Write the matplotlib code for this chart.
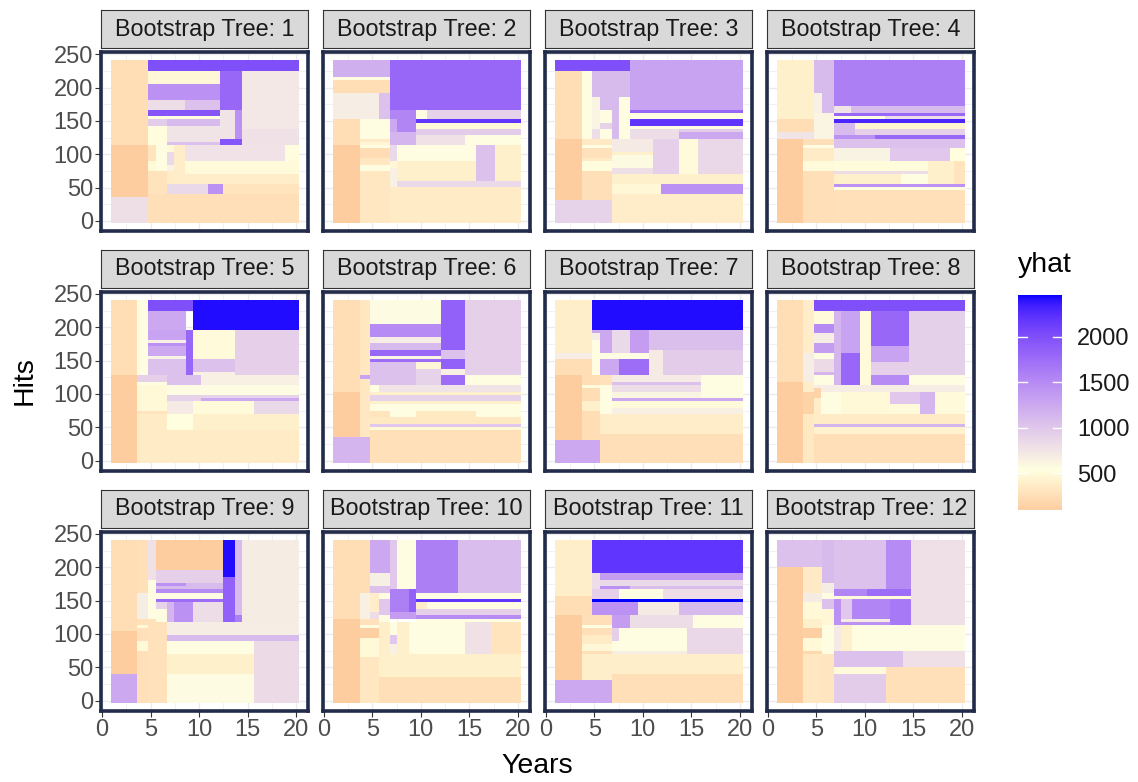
import matplotlib
matplotlib.use("Agg")
import matplotlib.pyplot as plt
import matplotlib.colors as mcolors
import numpy as np
from matplotlib.cm import ScalarMappable

plt.rcParams["font.family"] = ["Liberation Sans", "DejaVu Sans"]

# Each tree: (years_lo, years_hi, hits_lo, hits_hi, yhat); later boxes paint over earlier ones
tree_1 = [
    (0.9, 4.7, 113.5, 241, 250), (0.9, 4.7, 35.5, 113.5, 95), (0.9, 4.7, -3, 35.5, 800),
    (4.7, 20.3, -3, 40, 260), (4.7, 6.7, 40, 74.5, 290),
    (6.7, 10.9, 40, 55, 850), (10.9, 12.5, 40, 55, 1450), (12.5, 20.3, 40, 55, 300),
    (6.7, 20.3, 55, 74.5, 380), (8.6, 20.3, 70, 89.5, 500),
    (4.7, 5.55, 89.5, 113.5, 300), (4.7, 5.55, 74.5, 89.5, 480), (5.55, 6.7, 74.5, 113.5, 560),
    (6.7, 7.4, 103, 113.5, 480), (6.7, 7.4, 83.5, 103, 850), (6.7, 7.4, 74.5, 83.5, 640),
    (7.4, 8.6, 74.5, 113.5, 380), (8.6, 18.8, 89.5, 113.5, 770), (18.8, 20.3, 89.5, 113.5, 520),
    (4.7, 20.3, 224.5, 241, 2000), (4.7, 12.15, 205, 224.5, 470), (12.15, 14.4, 166, 224.5, 1800),
    (14.4, 20.3, 137.5, 224.5, 720), (14.4, 20.3, 113.5, 137.5, 780),
    (4.7, 12.15, 181, 205, 1450), (4.7, 8.6, 166, 181, 820), (8.6, 12.15, 166, 181, 1050),
    (4.7, 12.15, 157, 166, 1950), (4.7, 12.15, 152.5, 157, 560),
    (4.7, 6.7, 142, 152.5, 950), (6.7, 12.15, 142, 152.5, 1100),
    (12.15, 13.7, 122.5, 166, 760), (13.7, 14.4, 122.5, 166, 1450), (12.15, 14.4, 113.5, 122.5, 1950),
    (4.7, 6.7, 113.5, 142, 520), (6.7, 12.15, 118, 142, 760), (6.7, 12.15, 113.5, 118, 1050),
]
tree_2 = [
    (0.9, 6.8, 215.5, 241, 1200), (0.9, 6.8, 211, 215.5, 560), (0.9, 6.8, 191.5, 211, 250),
    (0.9, 5.65, 152.5, 191.5, 680), (5.65, 6.8, 152.5, 191.5, 1050),
    (0.9, 3.7, 113.5, 152.5, 250), (0.9, 3.7, -3, 113.5, 95),
    (3.7, 6.8, 122.5, 152.5, 560), (3.7, 6.8, 118, 122.5, 350), (3.7, 6.8, 113.5, 118, 450),
    (3.7, 6.8, 109, 113.5, 560), (3.7, 6.8, 94, 109, 230), (3.7, 6.8, 83.5, 94, 330),
    (3.7, 6.8, 74.5, 83.5, 560), (3.7, 6.8, -3, 74.5, 330),
    (6.8, 20.3, 166, 241, 1800), (6.8, 9.45, 152.5, 166, 1550), (9.45, 10.6, 152.5, 166, 560),
    (10.6, 20.3, 152.5, 166, 900), (6.8, 7.5, 133, 152.5, 1250), (7.5, 9.45, 133, 152.5, 1550),
    (9.45, 20.3, 146.5, 152.5, 2200), (9.45, 20.3, 137.5, 146.5, 480), (9.45, 20.3, 128.5, 137.5, 950),
    (6.8, 9.45, 113.5, 133, 1150), (9.45, 14.5, 113.5, 128.5, 780), (14.5, 20.3, 113.5, 128.5, 560),
    (6.8, 7.5, 89.5, 113.5, 850), (6.8, 7.5, 79, 89.5, 470), (6.8, 7.5, 50.5, 79, 660),
    (7.5, 15.65, 89.5, 113.5, 560), (15.65, 17.6, 59.5, 113.5, 1050), (17.6, 20.3, 59.5, 113.5, 400),
    (7.5, 15.65, 59.5, 89.5, 400), (7.5, 20.3, 50.5, 59.5, 850), (6.8, 20.3, -3, 50.5, 360),
]
tree_3 = [
    (0.9, 8.65, 224.5, 241, 2000), (0.9, 3.7, 122.5, 224.5, 250), (0.9, 3.7, 31, 122.5, 95),
    (0.9, 6.8, -3, 31, 900), (3.7, 4.8, 122.5, 224.5, 560), (4.8, 8.65, 185.5, 224.5, 1100),
    (4.8, 5.55, 137.5, 185.5, 620), (4.8, 5.55, 122.5, 137.5, 820),
    (5.55, 6.8, 166, 185.5, 1100), (5.55, 6.8, 146.5, 166, 560), (5.55, 6.8, 137.5, 146.5, 900),
    (5.55, 6.8, 122.5, 137.5, 560), (6.8, 7.5, 122.5, 185.5, 1100), (7.5, 8.65, 122.5, 185.5, 560),
    (8.65, 20.3, 166, 241, 1300), (8.65, 20.3, 161.5, 166, 1800), (8.65, 20.3, 152.5, 161.5, 560),
    (8.65, 20.3, 142, 152.5, 2200), (8.65, 20.3, 137.5, 142, 560), (8.65, 13.7, 122.5, 137.5, 820),
    (13.7, 20.3, 133, 137.5, 950), (13.7, 20.3, 122.5, 133, 1250),
    (3.7, 6.8, 113.5, 122.5, 350), (3.7, 6.8, 109, 113.5, 560), (3.7, 6.8, 94, 109, 280),
    (3.7, 6.8, 89.5, 94, 350), (3.7, 6.8, 74.5, 89.5, 520), (3.7, 6.8, 31, 74.5, 260),
    (6.8, 11.0, 103, 122.5, 700), (6.8, 11.0, 98.5, 103, 400), (6.8, 11.0, 79, 98.5, 580),
    (6.8, 11.0, 70, 79, 800), (11.0, 13.7, 70, 122.5, 930), (13.7, 15.65, 70, 122.5, 500),
    (15.65, 20.3, 70, 122.5, 860), (6.8, 20.3, 55, 70, 400), (6.8, 11.85, 40, 55, 470),
    (11.85, 20.3, 40, 55, 1450), (6.8, 20.3, -3, 40, 380),
]
tree_4 = [
    (0.9, 4.8, 152.5, 241, 400), (0.9, 4.8, 133, 152.5, 250), (0.9, 4.8, 122.5, 133, 760),
    (0.9, 3.6, -3, 122.5, 95), (3.6, 6.8, -3, 122.5, 260), (3.6, 6.8, 109, 113.5, 560),
    (3.6, 6.8, 89.5, 109, 370), (3.6, 6.8, 74.5, 89.5, 500),
    (4.8, 6.8, 191.5, 241, 1100), (4.8, 5.55, 161.5, 191.5, 650), (5.55, 6.8, 161.5, 191.5, 1100),
    (4.8, 6.8, 122.5, 161.5, 620), (6.8, 20.3, 172, 241, 1600), (6.8, 8.6, 161.5, 172, 760),
    (8.6, 20.3, 161.5, 172, 1100), (6.8, 20.3, 157, 161.5, 1800), (6.8, 12.1, 152.5, 157, 560),
    (12.1, 20.3, 152.5, 157, 820), (6.8, 20.3, 146.5, 152.5, 2300), (6.8, 9.0, 128.5, 146.5, 1100),
    (9.0, 20.3, 137.5, 146.5, 440), (9.0, 20.3, 128.5, 137.5, 930), (6.8, 11.0, 122.5, 128.5, 1450),
    (11.0, 20.3, 122.5, 128.5, 1800), (6.8, 20.3, 109, 122.5, 1050), (6.8, 12.6, 89.5, 109, 640),
    (12.6, 18.8, 89.5, 109, 1000), (18.8, 20.3, 89.5, 109, 530), (6.8, 16.5, 74.5, 89.5, 510),
    (16.5, 19.2, 55, 89.5, 400), (19.2, 20.3, 55, 89.5, 300), (6.8, 16.5, 70, 74.5, 820),
    (6.8, 13.7, 55, 70, 400), (13.7, 16.5, 55, 70, 560), (6.8, 20.3, 50.5, 55, 1450),
    (6.8, 20.3, 46, 50.5, 560), (6.8, 20.3, -3, 46, 270),
]
tree_5 = [
    (0.9, 3.6, 128.5, 241, 250), (0.9, 3.6, -3, 128.5, 95), (3.6, 4.7, 128.5, 241, 560),
    (4.7, 9.4, 224.5, 241, 2000), (9.4, 20.3, 196, 241, 2420), (4.7, 8.65, 196, 224.5, 1250),
    (4.7, 8.65, 181, 196, 1300), (4.7, 8.65, 176.5, 181, 650), (4.7, 8.65, 172, 176.5, 1450),
    (4.7, 8.65, 157, 172, 1250), (4.7, 8.65, 152.5, 157, 640), (4.7, 8.65, 128.5, 152.5, 1050),
    (8.65, 9.4, 128.5, 196, 1800), (9.4, 13.7, 152.5, 196, 500), (9.4, 13.7, 133, 152.5, 1050),
    (9.4, 13.7, 128.5, 133, 650), (13.7, 20.3, 128.5, 196, 930),
    (3.6, 6.7, 118, 128.5, 930), (3.6, 6.7, 113.5, 118, 560), (6.7, 10.2, 113.5, 128.5, 1050),
    (10.2, 20.3, 113.5, 128.5, 660), (3.6, 6.7, 74.5, 113.5, 480), (3.6, 6.7, 70, 74.5, 300),
    (3.6, 6.7, -3, 70, 360), (6.7, 20.3, 98.5, 113.5, 570), (6.7, 20.3, 94, 98.5, 900),
    (10.2, 20.3, 89.5, 94, 1250), (6.7, 10.2, 89.5, 94, 900), (6.7, 9.4, 70, 89.5, 700),
    (9.4, 15.7, 70, 89.5, 500), (15.7, 20.3, 70, 89.5, 850), (6.7, 9.4, 46, 70, 530),
    (9.4, 20.3, 46, 70, 400), (6.7, 20.3, -3, 46, 360),
]
tree_6 = [
    (0.9, 3.7, 103, 241, 250), (0.9, 3.7, 35.5, 103, 95), (0.9, 4.8, -3, 35.5, 1150),
    (3.7, 4.8, 35.5, 241, 330), (3.7, 4.8, 122.5, 128.5, 1300),
    (4.8, 12.1, 205, 241, 570), (4.8, 12.1, 185.5, 205, 1500), (4.8, 12.1, 176.5, 185.5, 680),
    (4.8, 12.1, 166, 176.5, 1100), (4.8, 12.1, 157, 166, 1800), (4.8, 12.1, 152.5, 157, 620),
    (4.8, 12.1, 148, 152.5, 1750), (4.8, 9.45, 113.5, 148, 1050), (9.45, 12.1, 137.5, 148, 470),
    (9.45, 12.1, 113.5, 137.5, 900), (12.1, 14.5, 166, 241, 1850), (12.1, 14.5, 152.5, 166, 1050),
    (12.1, 14.5, 137.5, 152.5, 1850), (12.1, 14.5, 128.5, 137.5, 650), (12.1, 14.5, 113.5, 128.5, 1750),
    (14.5, 20.3, 128.5, 241, 930), (14.5, 20.3, 113.5, 128.5, 560),
    (4.8, 5.65, 103, 113.5, 540), (5.65, 20.3, 103, 113.5, 760), (4.8, 20.3, 98.5, 103, 400),
    (4.8, 20.3, 89.5, 98.5, 900), (4.8, 20.3, 85, 89.5, 400), (4.8, 20.3, 74.5, 85, 560),
    (4.8, 6.8, 65.5, 74.5, 300), (6.8, 9.45, 65.5, 74.5, 560), (9.45, 15.65, 65.5, 74.5, 340),
    (15.65, 20.3, 65.5, 74.5, 560), (4.8, 20.3, 55, 65.5, 340), (4.8, 20.3, 50.5, 55, 1000),
    (4.8, 20.3, 46, 50.5, 480), (4.8, 20.3, -3, 46, 270),
]
tree_7 = [
    (0.9, 4.8, 161.5, 241, 390), (0.9, 4.8, 152.5, 161.5, 680), (0.9, 4.8, 128.5, 152.5, 250),
    (0.9, 3.7, 31, 128.5, 95), (0.9, 5.55, -3, 31, 1250), (3.7, 5.55, 31, 128.5, 250),
    (3.7, 5.55, 109, 113.5, 500), (3.7, 5.55, 74.5, 89.5, 400),
    (4.8, 20.3, 196, 241, 2420), (4.8, 5.55, 191.5, 196, 1250), (4.8, 5.55, 181, 191.5, 680),
    (4.8, 5.55, 128.5, 181, 560), (5.55, 6.8, 161.5, 196, 1250), (6.8, 8.65, 161.5, 196, 850),
    (8.65, 10.6, 161.5, 196, 1350), (10.6, 20.3, 166, 196, 1070), (5.55, 10.6, 152.5, 161.5, 560),
    (10.6, 12.1, 128.5, 166, 700), (12.1, 20.3, 128.5, 166, 950), (5.55, 7.5, 128.5, 152.5, 1250),
    (7.5, 10.6, 128.5, 152.5, 1750), (5.55, 6.8, 113.5, 128.5, 280), (5.55, 6.8, 70, 113.5, 560),
    (6.8, 16.0, 118, 128.5, 700), (6.8, 16.0, 113.5, 118, 1050), (6.8, 16.0, 103, 113.5, 820),
    (6.8, 16.0, 94, 103, 620), (16.0, 20.3, 94, 128.5, 560), (6.8, 20.3, 89.5, 94, 1250),
    (6.8, 20.3, 79, 89.5, 500), (6.8, 20.3, 70, 79, 660), (5.55, 20.3, 40, 70, 380),
    (5.55, 20.3, -3, 40, 260),
]
tree_8 = [
    (0.9, 3.6, 118, 241, 250), (0.9, 3.6, -3, 118, 95), (3.6, 4.8, 161.5, 241, 380),
    (3.6, 4.8, 118, 161.5, 680), (3.6, 4.8, 103, 118, 380), (3.6, 4.8, 70, 103, 150),
    (3.6, 4.8, -3, 70, 340), (4.8, 20.3, 224.5, 241, 2000), (4.8, 6.8, 205, 224.5, 500),
    (4.8, 6.8, 191.5, 205, 1500), (4.8, 6.8, 176.5, 191.5, 680), (4.8, 6.8, 161.5, 176.5, 1350),
    (4.8, 6.8, 152.5, 161.5, 560), (4.8, 6.8, 133, 152.5, 830), (4.8, 6.8, 128.5, 133, 1150),
    (4.8, 6.8, 113.5, 128.5, 560), (6.8, 7.5, 113.5, 224.5, 1150), (7.5, 9.45, 161.5, 224.5, 1300),
    (7.5, 9.45, 113.5, 161.5, 1800), (9.45, 10.6, 113.5, 224.5, 500), (10.6, 14.5, 172, 224.5, 1800),
    (10.6, 14.5, 148, 172, 1300), (10.6, 14.5, 128.5, 148, 930), (10.6, 14.5, 113.5, 128.5, 1500),
    (14.5, 20.3, 128.5, 224.5, 920), (14.5, 20.3, 113.5, 128.5, 560), (4.8, 20.3, 103, 113.5, 680),
    (4.8, 5.5, 94, 109, 150), (4.8, 5.5, 55, 94, 380), (5.5, 7.5, 70, 103, 560),
    (7.5, 12.6, 70, 103, 480), (12.6, 15.65, 85, 103, 1000), (12.6, 15.65, 70, 85, 500),
    (15.65, 17.2, 70, 103, 1150), (17.2, 20.3, 70, 103, 490), (5.5, 20.3, 55, 70, 360),
    (4.8, 20.3, 50.5, 55, 1150), (4.8, 20.3, 40, 50.5, 420), (4.8, 20.3, -3, 40, 260),
]
tree_9 = [
    (0.9, 3.6, 104.5, 241, 250), (0.9, 3.6, 40, 104.5, 95), (0.9, 3.6, -3, 40, 1250),
    (3.6, 4.7, -3, 241, 270), (3.6, 4.7, 122.5, 161.5, 680), (3.6, 4.7, 109, 113.5, 480),
    (3.6, 4.7, 74.5, 89.5, 480), (4.7, 5.55, 181, 241, 780), (4.7, 5.55, 122.5, 181, 560),
    (4.7, 6.7, -3, 122.5, 280),
    (5.55, 12.5, 196, 241, 95), (5.55, 12.5, 176.5, 196, 930), (5.55, 8.65, 172, 176.5, 1450),
    (8.65, 12.5, 172, 176.5, 1100), (5.55, 12.5, 167.5, 172, 1100), (5.55, 12.5, 161.5, 167.5, 1500),
    (5.55, 12.5, 152.5, 161.5, 560), (5.55, 12.5, 148, 152.5, 1750), (5.55, 6.7, 137.5, 148, 900),
    (5.55, 6.7, 118, 137.5, 560), (6.7, 7.4, 118, 148, 1150), (7.4, 9.4, 118, 148, 1450),
    (9.4, 12.5, 118, 148, 820), (12.5, 13.7, 185.5, 241, 2420), (12.5, 13.7, 118, 185.5, 1850),
    (13.7, 14.4, 128.5, 241, 1100), (13.7, 14.4, 118, 128.5, 1600), (14.4, 20.3, 118, 241, 690),
    (6.7, 20.3, 98.5, 118, 680), (6.7, 20.3, 89.5, 98.5, 1100), (6.7, 15.65, 70, 89.5, 560),
    (6.7, 15.65, 40, 70, 400), (6.7, 15.65, -3, 40, 570), (15.65, 20.3, -3, 89.5, 830),
]
tree_10 = [
    (0.9, 3.7, 122.5, 241, 250), (0.9, 3.7, -3, 122.5, 95), (3.7, 4.8, 161.5, 241, 250),
    (3.7, 4.8, 122.5, 161.5, 650), (4.8, 6.8, 191.5, 241, 1250), (4.8, 6.8, 172, 191.5, 670),
    (4.8, 6.8, 161.5, 172, 1050), (6.8, 7.5, 167.5, 241, 1000), (7.5, 9.45, 167.5, 241, 560),
    (9.45, 13.8, 161.5, 241, 1600), (13.8, 20.3, 161.5, 241, 1080), (4.8, 5.65, 133, 161.5, 380),
    (4.8, 5.65, 122.5, 133, 820), (5.65, 6.8, 118, 161.5, 560), (5.65, 6.8, 128.5, 152.5, 1000),
    (6.8, 8.75, 133, 167.5, 1600), (8.75, 9.45, 133, 167.5, 1850), (6.8, 9.45, 122.5, 133, 1350),
    (9.45, 20.3, 152.5, 161.5, 560), (9.45, 20.3, 148, 152.5, 2200), (9.45, 20.3, 137.5, 148, 560),
    (9.45, 10.6, 137.5, 148, 380), (9.45, 20.3, 128.5, 137.5, 930), (9.45, 20.3, 122.5, 128.5, 1500),
    (9.45, 20.3, 118, 122.5, 560), (3.7, 5.65, 113.5, 122.5, 280), (3.7, 5.65, 109, 113.5, 560),
    (3.7, 5.65, 94, 109, 120), (3.7, 5.65, 65.5, 94, 480), (3.7, 5.65, -3, 65.5, 330),
    (5.65, 6.8, 70, 118, 390), (6.8, 7.5, 98.5, 118, 560), (6.8, 7.5, 85, 98.5, 1000),
    (6.8, 7.5, 70, 85, 650), (7.5, 8.75, 70, 118, 400), (8.75, 14.5, 70, 118, 560),
    (14.5, 17.2, 70, 118, 780), (17.2, 20.3, 70, 118, 300), (5.65, 20.3, 35.5, 70, 400),
    (5.65, 20.3, -3, 35.5, 260),
]
tree_11 = [
    (0.9, 4.8, 157, 241, 390), (0.9, 4.8, 128.5, 157, 250), (0.9, 3.7, 31, 128.5, 95),
    (0.9, 6.8, -3, 31, 1250), (3.7, 6.8, 31, 128.5, 390), (3.7, 6.8, 113.5, 128.5, 260),
    (3.7, 6.8, 109, 113.5, 560), (3.7, 6.8, 98.5, 109, 260), (3.7, 6.8, 85, 98.5, 360),
    (3.7, 6.8, 74.5, 85, 470), (3.7, 6.8, 70, 74.5, 260), (4.8, 20.3, 191.5, 241, 2200),
    (4.8, 5.55, 167.5, 191.5, 820), (5.55, 20.3, 181, 191.5, 1350), (5.55, 20.3, 172, 181, 850),
    (5.55, 8.65, 167.5, 172, 1450), (8.65, 20.3, 167.5, 172, 1080), (4.8, 7.5, 152.5, 167.5, 930),
    (7.5, 12.1, 152.5, 167.5, 560), (12.1, 20.3, 152.5, 167.5, 820), (4.8, 20.3, 148, 152.5, 2460),
    (4.8, 9.45, 128.5, 148, 1450), (9.45, 13.7, 128.5, 148, 700), (13.7, 20.3, 128.5, 148, 1100),
    (6.8, 8.65, 109, 128.5, 1350), (8.65, 15.2, 109, 128.5, 820), (15.2, 20.3, 109, 128.5, 560),
    (6.8, 14.5, 74.5, 109, 560), (6.8, 7.5, 89.5, 109, 930), (6.8, 14.5, 70, 74.5, 680),
    (14.5, 20.3, 70, 109, 860), (6.8, 20.3, 40, 70, 390), (6.8, 20.3, -3, 40, 260),
]
tree_12 = [
    (0.9, 5.55, 200.5, 241, 1050), (0.9, 3.6, -3, 200.5, 95), (3.6, 5.55, -3, 200.5, 330),
    (3.6, 5.55, 161.5, 200.5, 350), (3.6, 5.55, 148, 161.5, 690), (3.6, 5.55, 122.5, 148, 480),
    (3.6, 5.55, 109, 122.5, 400), (3.6, 5.55, 94, 109, 110), (3.6, 5.55, 74.5, 94, 480),
    (3.6, 5.55, 70, 74.5, 200), (5.55, 6.8, 176.5, 241, 1100), (5.55, 6.8, 161.5, 176.5, 690),
    (5.55, 6.8, 152.5, 161.5, 560), (5.55, 6.8, 137.5, 152.5, 1050), (5.55, 6.8, 113.5, 137.5, 470),
    (5.55, 6.8, 70, 113.5, 560), (5.55, 6.8, -3, 70, 320), (6.8, 12.15, 167.5, 241, 1050),
    (12.15, 14.7, 167.5, 241, 1500), (14.7, 20.3, 113.5, 241, 790), (6.8, 10.2, 157, 167.5, 1550),
    (10.2, 14.7, 157, 167.5, 1750), (6.8, 14.7, 152.5, 157, 500), (6.8, 7.5, 113.5, 152.5, 1450),
    (7.5, 8.65, 122.5, 152.5, 1000), (8.65, 12.6, 122.5, 152.5, 1550), (12.6, 14.7, 113.5, 152.5, 1650),
    (7.5, 12.6, 118, 122.5, 700), (7.5, 12.6, 113.5, 118, 1450), (6.8, 7.5, 74.5, 113.5, 700),
    (7.5, 8.65, 74.5, 113.5, 400), (8.65, 20.3, 74.5, 113.5, 560), (6.8, 13.9, 50.5, 74.5, 1050),
    (13.9, 20.3, 50.5, 74.5, 790), (6.8, 12.15, 40, 50.5, 490), (6.8, 12.15, -3, 40, 950),
    (12.15, 20.3, -3, 50.5, 270),
]

trees = [tree_1, tree_2, tree_3, tree_4, tree_5, tree_6,
         tree_7, tree_8, tree_9, tree_10, tree_11, tree_12]
panel_titles = [f"Bootstrap Tree: {i + 1}" for i in range(len(trees))]
x_ticks = [0, 5, 10, 15, 20]
y_ticks = [0, 50, 100, 150, 200, 250]
legend_ticks = [500, 1000, 1500, 2000]

# gradient2-like scale: peach -> lightyellow (midpoint) -> blue, interpolated in Lab
LOW, MID, HIGH = "#FDCDA0", "#FFFFE0", "#0000FF"
MIDPOINT = 536

M = np.array([[0.4124, 0.3576, 0.1805],
              [0.2126, 0.7152, 0.0722],
              [0.0193, 0.1192, 0.9505]])
WHITE = np.array([0.95047, 1.0, 1.08883])


def to_lab(color):
    rgb = np.array(mcolors.to_rgb(color))
    lin = np.where(rgb <= 0.04045, rgb / 12.92, ((rgb + 0.055) / 1.055) ** 2.4)
    xyz = M @ lin / WHITE
    f = np.where(xyz > 0.008856, np.cbrt(xyz), 7.787 * xyz + 16 / 116)
    return np.array([116 * f[1] - 16, 500 * (f[0] - f[1]), 200 * (f[1] - f[2])])


def from_lab(lab):
    fy = (lab[:, 0] + 16) / 116
    f = np.stack([fy + lab[:, 1] / 500, fy, fy - lab[:, 2] / 200], axis=1)
    xyz = np.where(f > 0.2069, f ** 3, (f - 16 / 116) / 7.787) * WHITE
    lin = np.clip(xyz @ np.linalg.inv(M).T, 0, None)
    rgb = np.where(lin <= 0.0031308, 12.92 * lin, 1.055 * lin ** (1 / 2.4) - 0.055)
    return np.clip(rgb, 0, 1)


all_vals = [r[4] for t in trees for r in t]
vmin, vmax = min(all_vals), max(all_vals)
levels = np.linspace(vmin, vmax, 512)
lo, mid, hi = to_lab(LOW), to_lab(MID), to_lab(HIGH)
t_lo = np.clip((MIDPOINT - levels) / (MIDPOINT - vmin), 0, 1)[:, None]
t_hi = np.clip((levels - MIDPOINT) / (vmax - MIDPOINT), 0, 1)[:, None]
labs = np.where(levels[:, None] <= MIDPOINT, mid + t_lo * (lo - mid), mid + t_hi * (hi - mid))
cmap = mcolors.ListedColormap(from_lab(labs))
norm = mcolors.Normalize(vmin=vmin, vmax=vmax)

# layout in pixels
W, H = 1138, 782
col_left = [101.3, 323.1, 545.1, 767.1]
row_top = [52.1, 291.8, 531.8]
pw, ph = 207.2, 179.0
strip_h, strip_gap = 38, 4

fig = plt.figure(figsize=(W / 100, H / 100), dpi=100)

x_lo = min(r[0] for t in trees for r in t)
x_hi = max(r[1] for t in trees for r in t)
y_lo = min(r[2] for t in trees for r in t)
y_hi = max(r[3] for t in trees for r in t)
x_edges = np.linspace(x_lo, x_hi, 389)
y_edges = np.linspace(y_lo, y_hi, 489)
XC, YC = np.meshgrid((x_edges[:-1] + x_edges[1:]) / 2, (y_edges[:-1] + y_edges[1:]) / 2)
x_pad = 0.05 * (x_hi - x_lo)
y_pad = 0.05 * (y_hi - y_lo)

for i, tree in enumerate(trees):
    r, c = divmod(i, 4)
    left, top = col_left[c], row_top[r]
    ax = fig.add_axes([left / W, 1 - (top + ph) / H, pw / W, ph / H])

    Z = np.full(XC.shape, np.nan)
    for x0, x1, y0, y1, v in tree:
        Z[(XC >= x0) & (XC < x1) & (YC >= y0) & (YC < y1)] = v
    ax.pcolormesh(x_edges, y_edges, Z, cmap=cmap, norm=norm, shading="flat", rasterized=True)

    ax.set_xlim(x_lo - x_pad, x_hi + x_pad)
    ax.set_ylim(y_lo - y_pad, y_hi + y_pad)
    ax.set_xticks(x_ticks)
    ax.set_yticks(y_ticks)
    ax.set_xticks([2.5, 7.5, 12.5, 17.5], minor=True)
    ax.set_yticks([25, 75, 125, 175, 225], minor=True)
    ax.set_axisbelow(True)
    ax.grid(which="major", color="#EBEBEB", lw=1.0)
    ax.grid(which="minor", color="#EBEBEB", lw=0.5)
    for sp in ax.spines.values():
        sp.set_color("#232B4B")
        sp.set_linewidth(2.6)
    ax.tick_params(which="minor", length=0)
    ax.tick_params(which="major", length=4, width=0.8, color="#333333",
                   labelsize=17, labelcolor="#4D4D4D", pad=2)
    if c != 0:
        ax.tick_params(left=False, labelleft=False)
    if r != 2:
        ax.tick_params(bottom=False, labelbottom=False)

    sax = fig.add_axes([left / W, 1 - (top - strip_gap) / H, pw / W, strip_h / H])
    sax.set_facecolor("#D9D9D9")
    sax.set_xticks([])
    sax.set_yticks([])
    for sp in sax.spines.values():
        sp.set_color("#333333")
        sp.set_linewidth(0.8)
    sax.text(0.5, 0.5, panel_titles[i], ha="center", va="center",
             fontsize=16.8, color="#1A1A1A", transform=sax.transAxes)

fig.text(537.5 / W, 1 - 766 / H, "Years", ha="center", va="center", fontsize=20.5)
fig.text(25 / W, 1 - 381 / H, "Hits", ha="center", va="center", fontsize=20.5, rotation=90)

# colour bar
cax = fig.add_axes([1018 / W, 1 - 510 / H, 44 / W, 215 / H])
cb = fig.colorbar(ScalarMappable(norm=norm, cmap=cmap), cax=cax, ticks=legend_ticks)
cb.outline.set_visible(False)
cax.tick_params(length=0, labelsize=17, labelcolor="#1A1A1A", pad=11)
for t in legend_ticks:
    cax.plot([0, 0.2], [t, t], color="white", lw=1, transform=cax.get_yaxis_transform())
    cax.plot([0.8, 1], [t, t], color="white", lw=1, transform=cax.get_yaxis_transform())
fig.text(1018 / W, 1 - 265 / H, "yhat", ha="left", va="center", fontsize=20.5)

fig.savefig("out.png", dpi=100)
